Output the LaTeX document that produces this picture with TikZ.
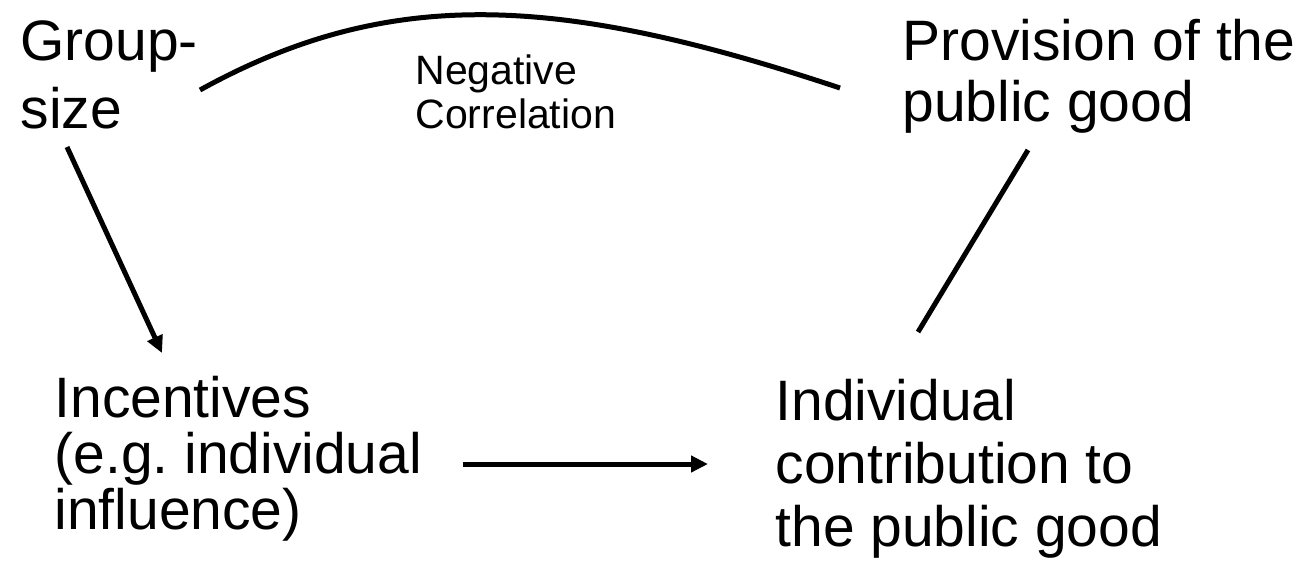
\documentclass[tikz,border=0pt]{standalone}
\usepackage{fontspec}
\setmainfont{Liberation Sans}
\usetikzlibrary{arrows.meta}
\frenchspacing

\begin{document}
\begin{tikzpicture}[x=1pt, y=1pt, line width=5pt,
    testo/.style={anchor=base west, inner sep=0pt, align=left, font=\fontsize{57}{65}\selectfont},
    piccolo/.style={anchor=base west, inner sep=0pt, align=left, font=\fontsize{41}{44}\selectfont},
    freccia/.style={-{Triangle[length=17pt,width=16pt]}}]
    % Riquadro
    \useasboundingbox (0,0) rectangle (1305,-573);
    % Nodi (ancorati alla base dell'ultima riga)
    \node[testo, font=\fontsize{57}{68}\selectfont] (gruppo) at (18,-128) {Group-\\size};
    \node[testo, font=\fontsize{57}{61}\selectfont] (bene) at (900,-121) {Provision of the\\public good};
    \node[testo, font=\fontsize{57}{56}\selectfont] (incentivi) at (52,-529) {Incentives\\(e.g. individual\\influence)};
    \node[testo, font=\fontsize{57}{63}\selectfont] (contributo) at (773,-546) {Individual\\contribution to\\the public good};
    \node[piccolo] (correlazione) at (413,-128) {Negative\\Correlation};
    % Estremi
    \coordinate (gA) at (67,-147);
    \coordinate (gB) at (162,-353);
    \coordinate (iA) at (463,-464);
    \coordinate (iB) at (708,-464);
    \coordinate (cA) at (918,-332);
    \coordinate (cB) at (1028,-150);
    \coordinate (sA) at (200,-90);
    \coordinate (sB) at (840,-88);
    % Frecce
    \draw[freccia] (gA) -- (gB);
    \draw[freccia] (iA) -- (iB);
    \draw (cA) -- (cB);
    \draw (sA) .. controls (390,15) and (560,5) .. (sB);
\end{tikzpicture}
\end{document}
